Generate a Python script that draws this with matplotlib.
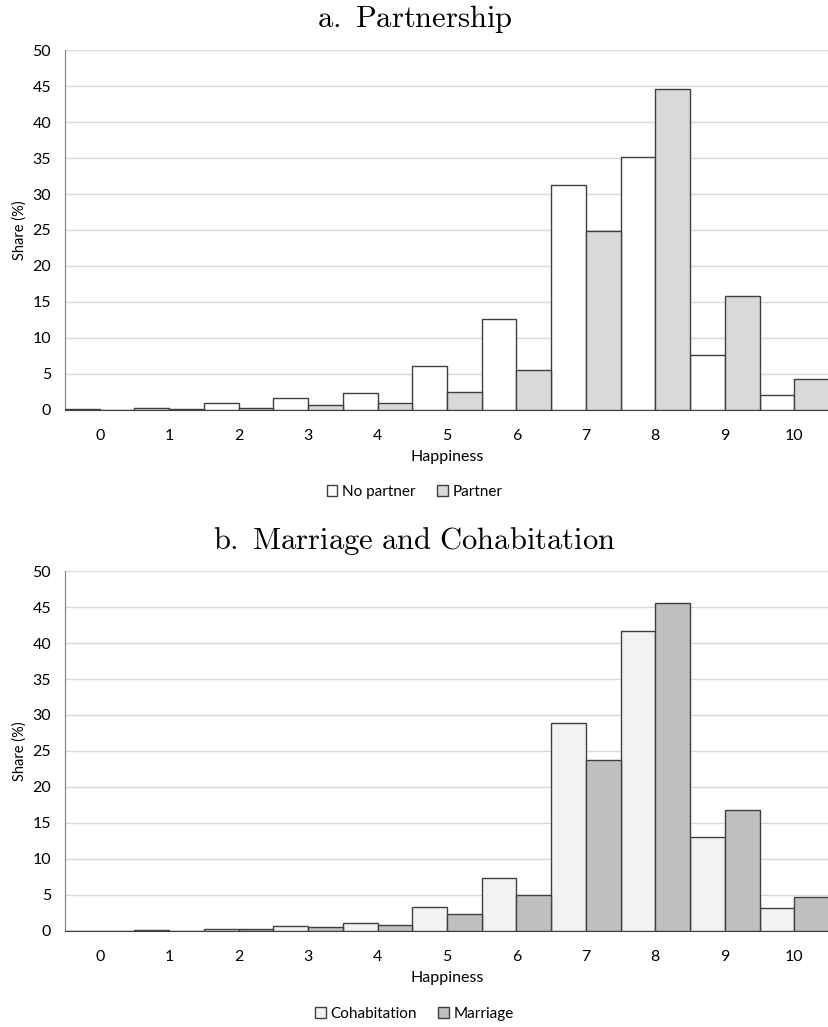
import numpy as np
import matplotlib
matplotlib.use("Agg")
import matplotlib.pyplot as plt

plt.rcParams["mathtext.fontset"] = "cm"
plt.rcParams["font.family"] = ["Lato", "DejaVu Sans"]

happiness = list(range(11))
no_partner = [0.1, 0.3, 1.0, 1.7, 2.3, 6.1, 12.6, 31.2, 35.1, 7.6, 2.1]
partner = [0.05, 0.1, 0.3, 0.7, 1.0, 2.5, 5.6, 24.9, 44.6, 15.9, 4.3]
cohabitation = [0.05, 0.2, 0.3, 0.7, 1.1, 3.3, 7.4, 28.9, 41.7, 13.1, 3.2]
marriage = [0.05, 0.05, 0.25, 0.6, 0.8, 2.3, 5.0, 23.7, 45.5, 16.8, 4.7]

fig = plt.figure(figsize=(8.29, 10.27), dpi=100)

panels = [
    (r"$\mathrm{a.\ Partnership}$", no_partner, partner, "No partner", "Partner",
     "#ffffff", "#d9d9d9", [0.0784, 0.6008, 0.9216, 0.3505], 0.997, 0.5006),
    (r"$\mathrm{b.\ Marriage\ and\ Cohabitation}$", cohabitation, marriage, "Cohabitation", "Marriage",
     "#f2f2f2", "#bfbfbf", [0.0784, 0.0935, 0.9216, 0.3505], 0.489, -0.0074),
]

x = np.array(happiness)
w = 0.5
for title, s1, s2, l1, l2, c1, c2, rect, ty, ly in panels:
    ax = fig.add_axes(rect)
    ax.bar(x - w / 2, s1, width=w, color=c1, edgecolor="#404040", linewidth=1.0, label=l1, zorder=3)
    ax.bar(x + w / 2, s2, width=w, color=c2, edgecolor="#404040", linewidth=1.0, label=l2, zorder=3)
    ax.set_xlim(-0.5, 10.5)
    ax.set_ylim(0, 50)
    ax.set_yticks(range(0, 51, 5))
    ax.set_xticks(x)
    ax.yaxis.grid(True, color="#d9d9d9", linewidth=1.0, zorder=0)
    ax.tick_params(length=0, labelsize=11.5, colors="#000000")
    ax.tick_params(axis="x", pad=14)
    ax.tick_params(axis="y", pad=10)
    for sp in ["top", "right"]:
        ax.spines[sp].set_visible(False)
    ax.spines["left"].set_color("#808080")
    ax.spines["bottom"].set_color("#404040")
    ax.set_xlabel("Happiness", fontsize=11.5, labelpad=5)
    ax.set_ylabel("Share (%)", fontsize=10.5, labelpad=4)
    fig.text(0.5, ty, title, ha="center", va="top", fontsize=22)
    fig.legend(handles=ax.patches[:1] + ax.patches[11:12], labels=[l1, l2],
               loc="lower center", bbox_to_anchor=(0.5, ly), ncol=2, frameon=False,
               fontsize=11, handlelength=0.7, handleheight=0.7, handletextpad=0.3,
               columnspacing=1.4)

fig.savefig("out.png", dpi=100)
